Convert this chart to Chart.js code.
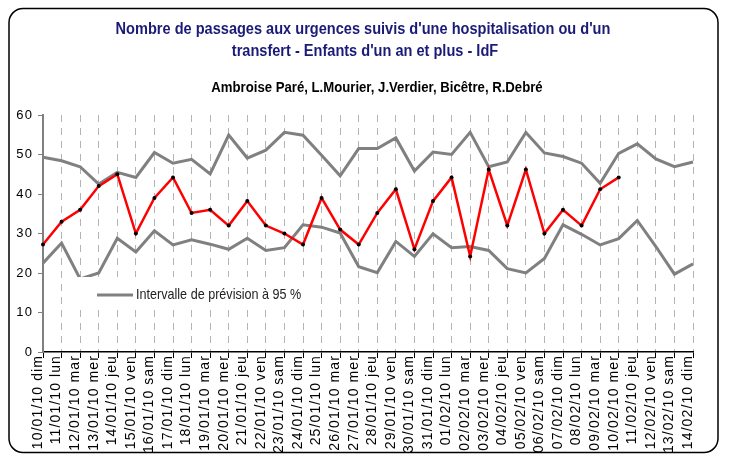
<!DOCTYPE html>
<html>
<head>
<meta charset="utf-8">
<script src="https://cdn.jsdelivr.net/npm/chart.js@4"></script>
<style>
  html, body { margin: 0; padding: 0; background: #fff; }
</style>
</head>
<body>
<canvas id="urgChart" width="743" height="454"></canvas>
<script>
// jours (axe X)
const days = [
  "10/01/10 dim", "11/01/10 lun", "12/01/10 mar", "13/01/10 mer", "14/01/10 jeu",
  "15/01/10 ven", "16/01/10 sam", "17/01/10 dim", "18/01/10 lun", "19/01/10 mar",
  "20/01/10 mer", "21/01/10 jeu", "22/01/10 ven", "23/01/10 sam", "24/01/10 dim",
  "25/01/10 lun", "26/01/10 mar", "27/01/10 mer", "28/01/10 jeu", "29/01/10 ven",
  "30/01/10 sam", "31/01/10 dim", "01/02/10 lun", "02/02/10 mar", "03/02/10 mer",
  "04/02/10 jeu", "05/02/10 ven", "06/02/10 sam", "07/02/10 dim", "08/02/10 lun",
  "09/02/10 mar", "10/02/10 mer", "11/02/10 jeu", "12/02/10 ven", "13/02/10 sam",
  "14/02/10 dim"
];

// passages observés
const observed = [
  27.2, 33, 36, 42, 45, 30, 39, 44.2, 35.2, 36,
  32, 38.2, 32, 30, 27.2, 39, 31, 27.2, 35.2, 41.2,
  26, 38.2, 44.2, 24.2, 46.2, 32, 46.2, 30, 36, 32,
  41.2, 44.2, null, null, null, null
];

// intervalle de prévision à 95 % : borne haute / borne basse
const upperBound = [
  49.3, 48.4, 46.9, 42.5, 45.5, 44.2, 50.5, 47.8, 48.8, 45.1,
  54.9, 49.1, 51.1, 55.6, 54.9, 49.8, 44.6, 51.5, 51.5, 54.2,
  45.8, 50.6, 50, 55.6, 46.9, 48.1, 55.6, 50.4, 49.5, 47.8,
  42.7, 50.3, 52.7, 48.9, 46.9, 48.1
];
const lowerBound = [
  22.5, 27.6, 18.5, 20, 28.8, 25.3, 30.7, 27.1, 28.4, 27.3,
  26, 28.8, 25.7, 26.4, 32.2, 31.6, 30.1, 21.6, 20.1, 28,
  24.2, 29.9, 26.4, 26.7, 25.7, 21.1, 20, 23.7, 32.2, 29.8,
  27.1, 28.7, 33.3, 26.7, 19.7, 22.3
];

const yTicks = [0, 10, 20, 30, 40, 50, 60];

const titleLines = [
  "Nombre de passages aux urgences suivis d'une hospitalisation ou d'un",
  "transfert - Enfants d'un an et plus - IdF"
];
const subTitle = "Ambroise Paré, L.Mourier, J.Verdier, Bicêtre, R.Debré";
const legendText = "Intervalle de prévision à 95 %";

const ARIAL = "'Liberation Sans', Arial, sans-serif";

// texte "étroit" : Arial compressé horizontalement
function narrowText(ctx, text, x, y, font, color, align, squeeze) {
  ctx.save();
  ctx.font = font;
  ctx.fillStyle = color;
  ctx.textAlign = align;
  ctx.translate(x, y);
  ctx.scale(squeeze, 1);
  ctx.fillText(text, 0, 0);
  ctx.restore();
}

// cadre arrondi + titres
const framePlugin = {
  id: "frame",
  beforeDraw(chart) {
    const ctx = chart.ctx;
    ctx.save();
    ctx.letterSpacing = "0px";
    ctx.fillStyle = "#fff";
    ctx.fillRect(0, 0, chart.width, chart.height);
    ctx.strokeStyle = "#000";
    ctx.lineWidth = 1.5;
    ctx.beginPath();
    ctx.roundRect(9, 8.5, 709, 444, 14);
    ctx.stroke();

    ctx.textBaseline = "alphabetic";
    narrowText(ctx, titleLines[0], 363, 34, "bold 16px " + ARIAL, "#1a1a78", "center", 0.91);
    narrowText(ctx, titleLines[1], 365, 56, "bold 16px " + ARIAL, "#1a1a78", "center", 0.91);
    narrowText(ctx, subTitle, 377, 92, "bold 14px " + ARIAL, "#000", "center", 0.94);
    ctx.restore();
    // les étiquettes de l'axe X sont espacées comme dans Excel
    ctx.letterSpacing = "1.1px";
  },
  afterDatasetsDraw(chart) {
    // légende dans la zone du graphique
    const ctx = chart.ctx;
    ctx.save();
    ctx.letterSpacing = "0px";
    ctx.fillStyle = "#fff";
    ctx.fillRect(64, 277, 250, 29);
    ctx.strokeStyle = "#808080";
    ctx.lineWidth = 3;
    ctx.beginPath();
    ctx.moveTo(97, 295);
    ctx.lineTo(133, 295);
    ctx.stroke();
    ctx.textBaseline = "middle";
    narrowText(ctx, legendText, 136, 295, "15px " + ARIAL, "#222", "left", 0.84);
    ctx.restore();
  },
  afterDraw(chart) {
    chart.ctx.letterSpacing = "0px";
  }
};

new Chart(document.getElementById("urgChart"), {
  type: "line",
  data: {
    labels: days,
    datasets: [
      {
        label: "Passages",
        data: observed,
        borderColor: "#ff0000",
        borderWidth: 2.5,
        pointRadius: 2,
        pointBackgroundColor: "#000",
        pointBorderColor: "#000",
        pointBorderWidth: 0,
        tension: 0,
        order: 0
      },
      {
        label: "Borne haute",
        data: upperBound,
        borderColor: "#808080",
        borderWidth: 3,
        pointRadius: 0,
        tension: 0,
        order: 1
      },
      {
        label: "Borne basse",
        data: lowerBound,
        borderColor: "#808080",
        borderWidth: 3,
        pointRadius: 0,
        tension: 0,
        order: 2
      }
    ]
  },
  options: {
    responsive: false,
    animation: false,
    devicePixelRatio: 1,
    layout: { padding: { top: 115, right: 50, bottom: 0, left: 0 } },
    plugins: {
      legend: { display: false },
      tooltip: { enabled: false }
    },
    scales: {
      x: {
        grid: {
          color: "#b4b4b4",
          lineWidth: 1,
          drawTicks: true,
          tickLength: 6,
          tickColor: "#000"
        },
        border: { color: "#000", width: 1.5, dash: [7, 6] },
        ticks: {
          autoSkip: false,
          maxRotation: 90,
          minRotation: 90,
          padding: -3,
          labelOffset: -5,
          color: "#000",
          font: { family: ARIAL, size: 14 }
        },
        afterFit(scale) { scale.height = 102; }
      },
      y: {
        min: 0,
        max: 60,
        afterBuildTicks(scale) { scale.ticks = yTicks.map(v => ({ value: v })); },
        grid: {
          drawOnChartArea: false,
          drawTicks: true,
          tickLength: 5,
          color: "#808080"
        },
        border: { color: "#808080", width: 2 },
        ticks: {
          padding: 5,
          color: "#000",
          font: { family: ARIAL, size: 13 }
        },
        afterFit(scale) { scale.width = 43; }
      }
    }
  },
  plugins: [framePlugin]
});
</script>
</body>
</html>
